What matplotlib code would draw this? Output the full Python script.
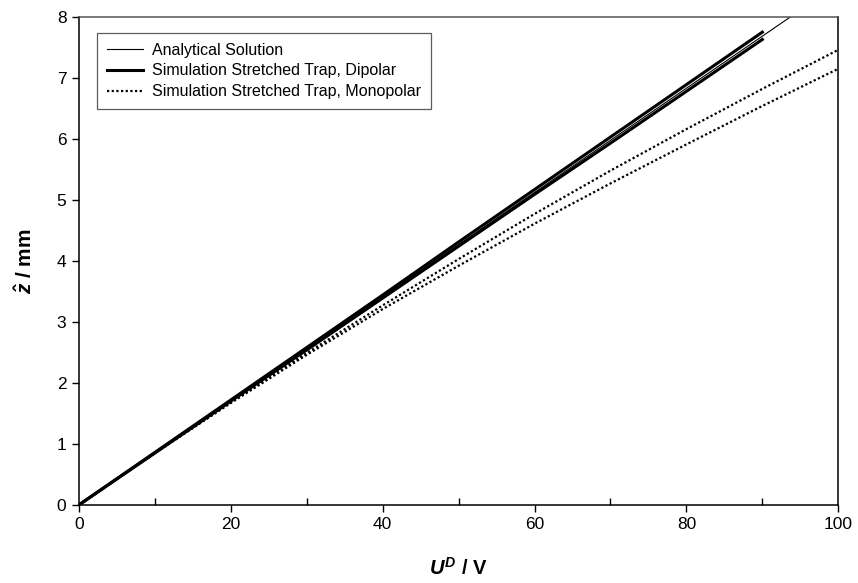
import matplotlib.pyplot as plt
import numpy as np
from matplotlib.ticker import MultipleLocator

plt.rcParams['font.family'] = ['Liberation Sans', 'DejaVu Sans']
plt.rcParams['mathtext.fontset'] = 'custom'
plt.rcParams['mathtext.rm'] = 'Liberation Sans:bold'
plt.rcParams['mathtext.it'] = 'Liberation Sans:italic:bold'
plt.rcParams['mathtext.bf'] = 'Liberation Sans:bold'

# analytical solution z = k * U
analytic_u = [0, 93.7]
analytic_z = [0, 8.0]

# dipolar simulation, two runs
dip_u = [0, 10, 20, 30, 40, 50, 60, 70, 80, 90]
dip_z1 = [0, 0.86, 1.72, 2.58, 3.44, 4.31, 5.17, 6.03, 6.89, 7.75]
dip_z2 = [0, 0.85, 1.70, 2.54, 3.39, 4.24, 5.09, 5.93, 6.78, 7.63]

# monopolar simulation, two runs
mono_u = [0, 10, 20, 30, 40, 50, 60, 70, 80, 90, 100]
mono_z1 = [0, 0.85, 1.68, 2.49, 3.27, 4.03, 4.77, 5.48, 6.16, 6.82, 7.46]
mono_z2 = [0, 0.85, 1.67, 2.46, 3.21, 3.92, 4.61, 5.27, 5.91, 6.54, 7.15]

fig = plt.figure(figsize=(8.58, 5.83), dpi=100)
ax = fig.add_axes([0.092, 0.134, 0.885, 0.837])

ax.plot(analytic_u, analytic_z, color='black', lw=0.8, label='Analytical Solution')
ax.plot(dip_u, dip_z1, color='black', lw=2.2, label='Simulation Stretched Trap, Dipolar')
ax.plot(dip_u, dip_z2, color='black', lw=2.2)
ax.plot(mono_u, mono_z1, color='black', lw=1.6, linestyle=(0, (1, 1.1)),
        label='Simulation Stretched Trap, Monopolar')
ax.plot(mono_u, mono_z2, color='black', lw=1.6, linestyle=(0, (1, 1.1)))

ax.set_xlim(0, 100)
ax.set_ylim(0, 8)
ax.xaxis.set_major_locator(MultipleLocator(20))
ax.xaxis.set_minor_locator(MultipleLocator(10))
ax.yaxis.set_major_locator(MultipleLocator(1))
ax.tick_params(axis='both', which='major', direction='out', length=5, width=1,
               labelsize=12.5, pad=4)
ax.tick_params(axis='x', which='minor', direction='in', length=5, width=1)

for side in ['left', 'bottom', 'right']:
    ax.spines[side].set_color('black')
    ax.spines[side].set_linewidth(1.1)
ax.spines['top'].set_color('#555555')
ax.spines['top'].set_linewidth(1.1)

ax.set_xlabel(r'$U^{D}$ / V', fontsize=14.5, fontweight='bold', labelpad=18)
ax.set_ylabel(r'$\hat{z}$ / mm', fontsize=15, fontweight='bold', labelpad=15)

leg = ax.legend(loc='upper left', bbox_to_anchor=(0.024, 0.967), fontsize=11.5,
                frameon=True, fancybox=False, edgecolor='#333333', handlelength=2.3,
                borderpad=0.6, labelspacing=0.36, handletextpad=0.55,
                borderaxespad=0)
leg.get_frame().set_linewidth(0.9)

fig.savefig('out.png', dpi=100)
